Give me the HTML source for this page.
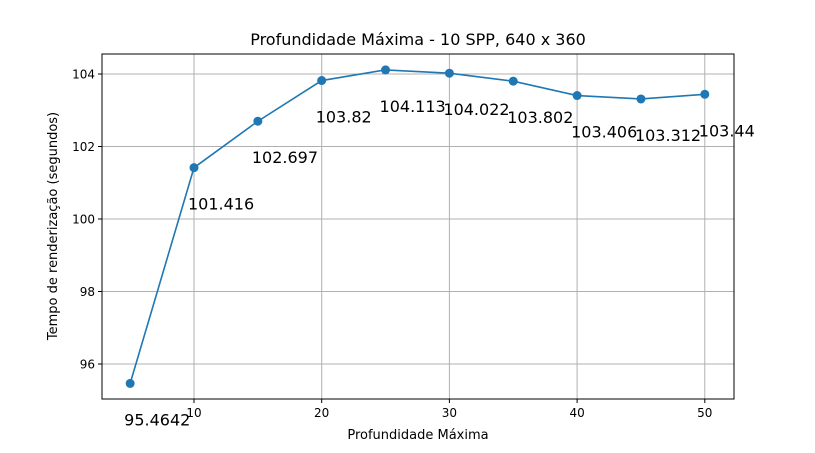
<!DOCTYPE html>
<html><head><meta charset="utf-8"><style>
body{margin:0;background:#fff;}
svg{font-family:"DejaVu Sans","Liberation Sans",sans-serif;}
</style></head><body>
<svg id="c" width="815" height="448"></svg>
<script>
const xVals=[5,10,15,20,25,30,35,40,45,50];
const yVals=[95.4642,101.416,102.697,103.82,104.113,104.022,103.802,103.406,103.312,103.44];
const valueLabels=["95.4642","101.416","102.697","103.82","104.113","104.022","103.802","103.406","103.312","103.44"];
const xTicks=[10,20,30,40,50];
const yTicks=[96,98,100,102,104];
const L=102,R=734,T=54,B=399;
const xs=v=>194+(v-10)*12.77;
const ys=v=>74+(104-v)*36.25;
const svg=document.getElementById('c');
const NS='http://www.w3.org/2000/svg';
function mk(tag,attrs,parent){const e=document.createElementNS(NS,tag);for(const k in attrs)e.setAttribute(k,attrs[k]);(parent||svg).appendChild(e);return e;}
let t=mk('text',{x:418,y:45,'text-anchor':'middle','font-size':16,fill:'#000'});t.textContent='Profundidade Máxima - 10 SPP, 640 x 360';


xTicks.forEach(v=>{
 const g=mk('line',{x1:xs(v),x2:xs(v),y1:T,y2:B,stroke:'#b0b0b0','stroke-width':1});
 
 
 mk('line',{x1:xs(v),x2:xs(v),y1:B,y2:B+4,stroke:'#000'});
 const l=mk('text',{x:xs(v),y:B+18,'text-anchor':'middle','font-size':12});l.textContent=v;
 
 
});
yTicks.forEach(v=>{
 const g=mk('line',{x1:L,x2:R,y1:ys(v),y2:ys(v),stroke:'#b0b0b0','stroke-width':1});
 
 
 mk('line',{x1:L-4,x2:L,y1:ys(v),y2:ys(v),stroke:'#000'});
 const l=mk('text',{x:L-7,y:ys(v)+4.5,'text-anchor':'end','font-size':12});l.textContent=v;
 
 
});
const fr=mk('rect',{x:L,y:T,width:R-L,height:B-T,fill:'none',stroke:'#000','stroke-width':1});


const xl=mk('text',{x:418,y:439,'text-anchor':'middle','font-size':13});xl.textContent='Profundidade Máxima';


const yl=mk('text',{x:57,y:226,'text-anchor':'middle','font-size':13,transform:'rotate(-90 57 226)'});yl.textContent='Tempo de renderização (segundos)';


const pl=mk('polyline',{points:xVals.map((v,i)=>xs(v)+','+ys(yVals[i])).join(' '),fill:'none',stroke:'#1f77b4','stroke-width':1.6});


xVals.forEach((v,i)=>{
 const c=mk('circle',{cx:xs(v),cy:ys(yVals[i]),r:4.5,fill:'#1f77b4'});
 
 
 const l=mk('text',{x:xs(v)-6,y:ys(yVals[i])+42,'font-size':16});l.textContent=valueLabels[i];
 
 
});
</script>
</body></html>
